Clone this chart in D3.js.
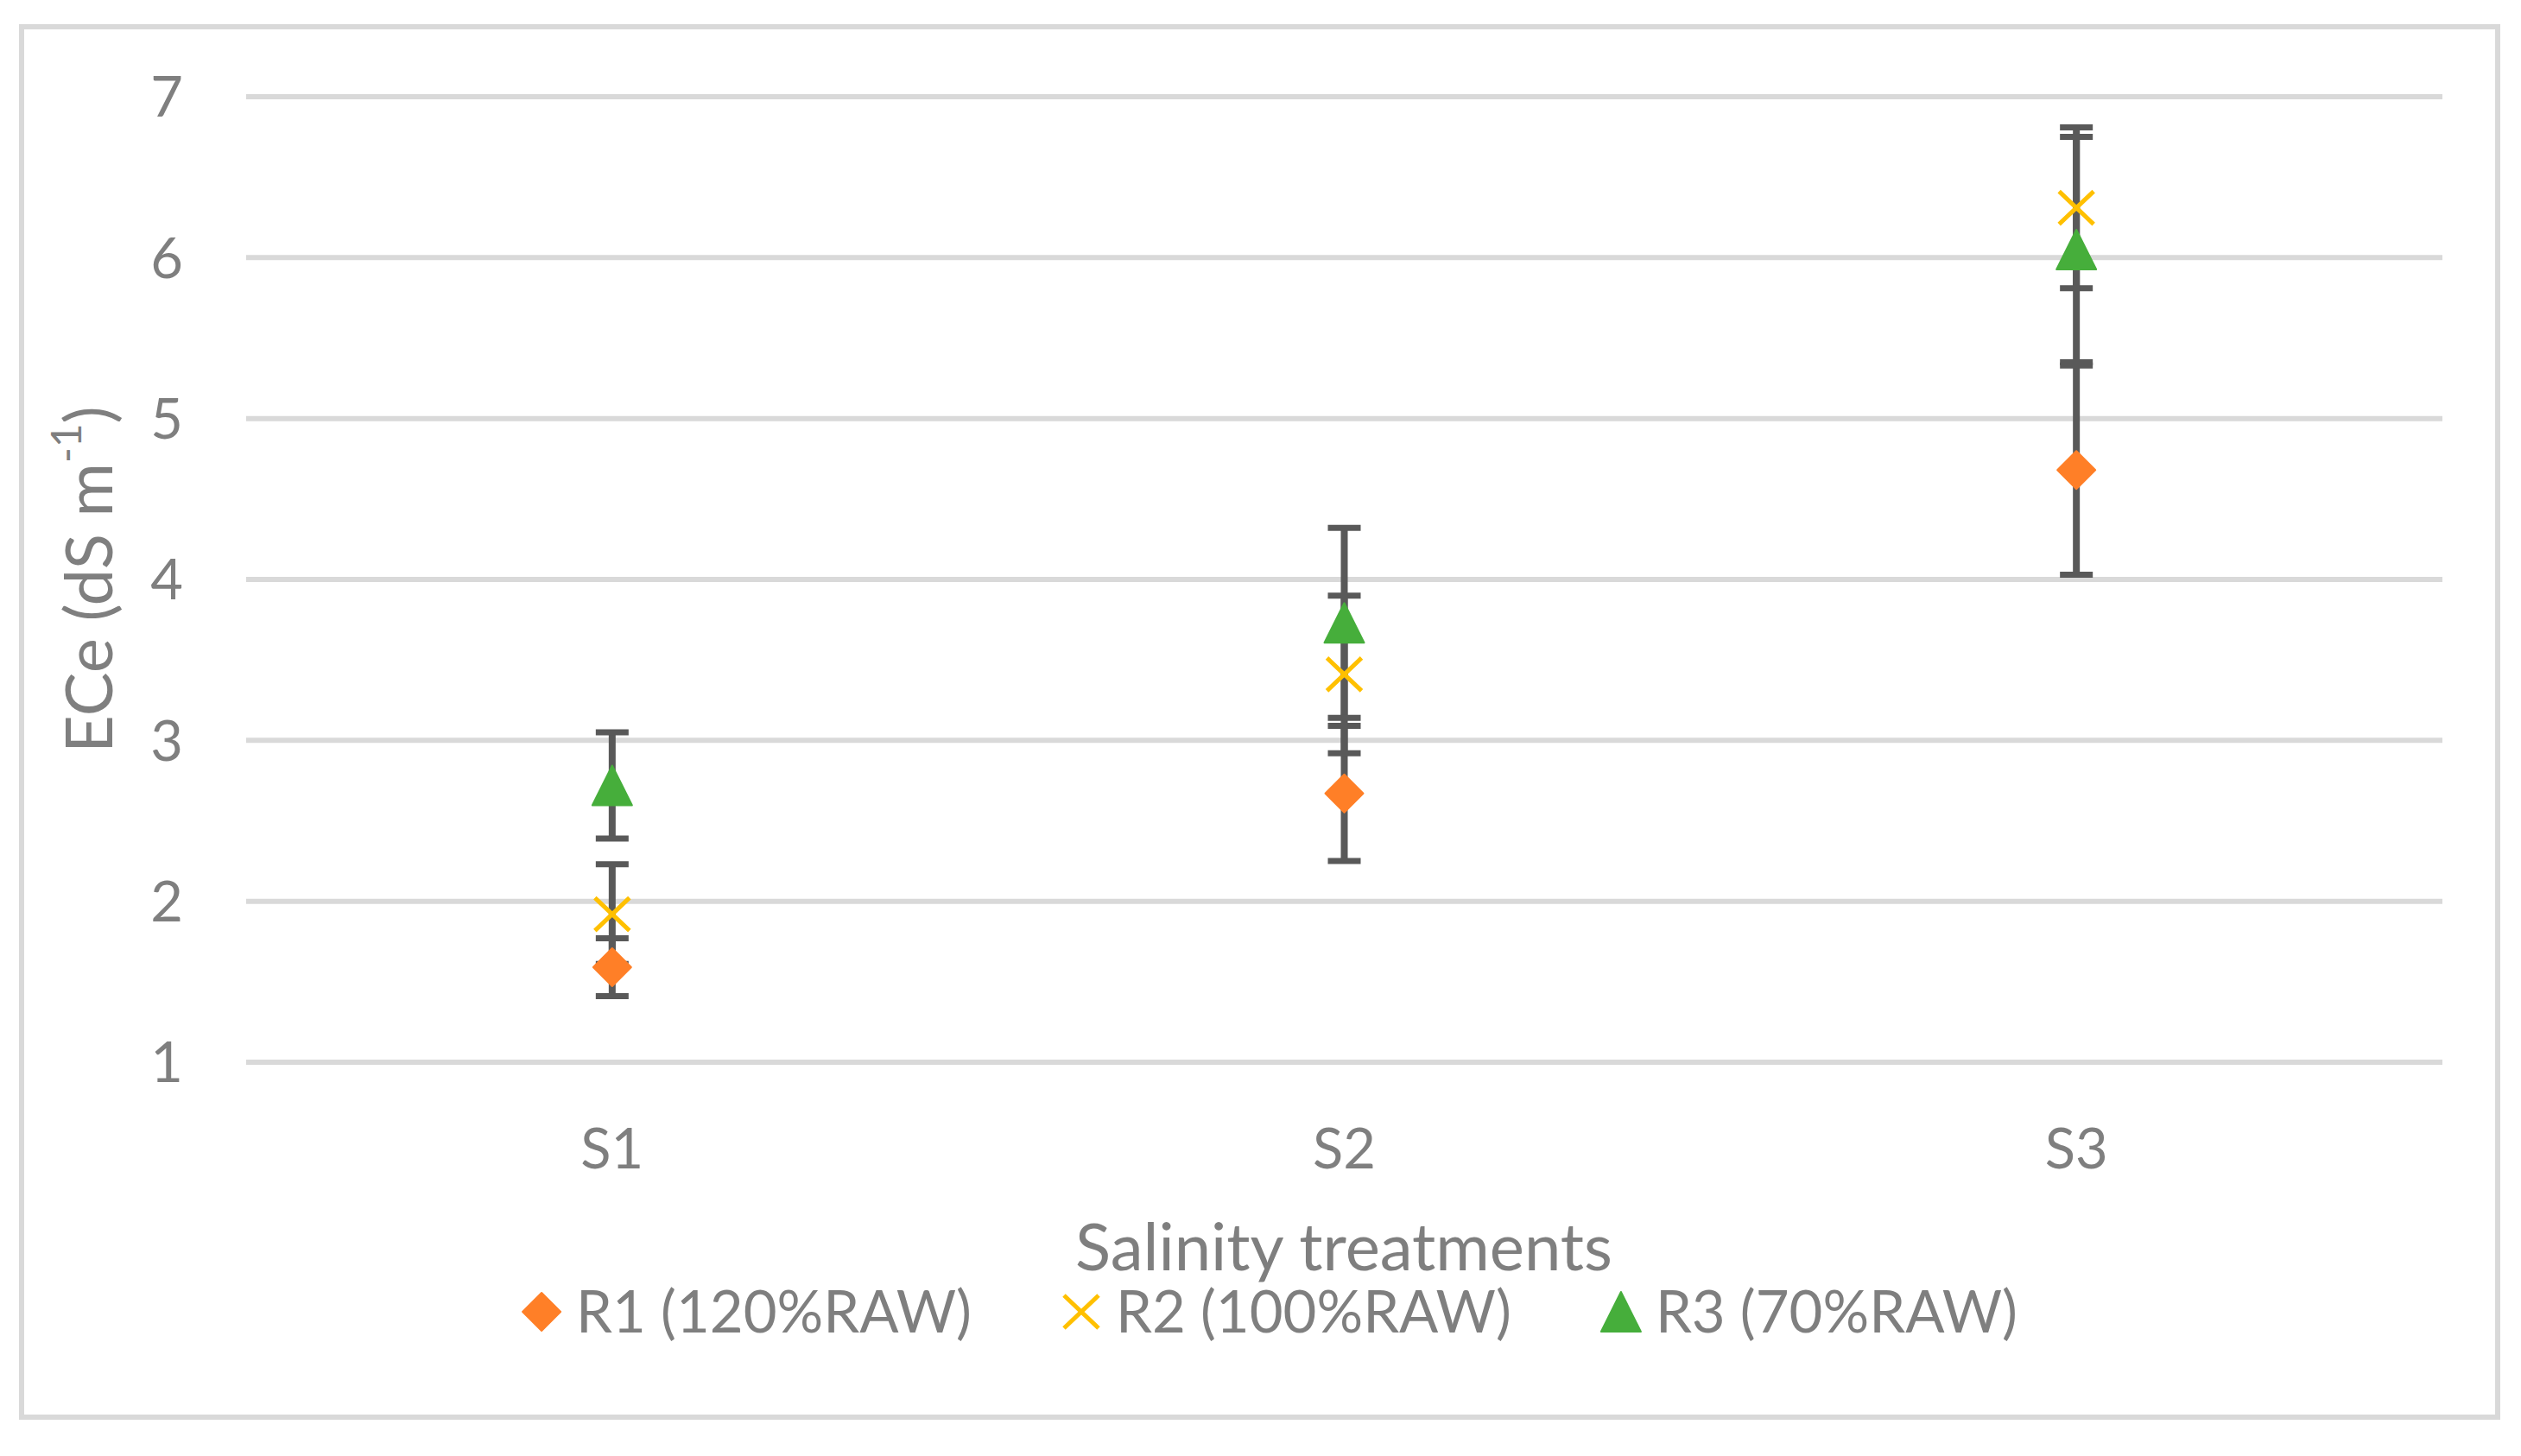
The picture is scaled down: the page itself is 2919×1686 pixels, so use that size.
<!DOCTYPE html>
<html>
<head>
<meta charset="utf-8">
<script src="https://cdn.jsdelivr.net/npm/d3@7"></script>
<style>
  body { margin: 0; background: #ffffff; }
  text { font-family: Lato, "Open Sans", sans-serif; fill: #7f7f7f; }
</style>
</head>
<body>
<div id="chart"></div>
<script>
// data
var categories = ['S1', 'S2', 'S3'];
var seriesNames = ['R1 (120%RAW)', 'R2 (100%RAW)', 'R3 (70%RAW)'];
var r1Means = [1.59, 2.67, 4.68];
var r1Errors = [0.18, 0.42, 0.65];
var r2Means = [1.92, 3.41, 6.31];
var r2Errors = [0.31, 0.49, 0.50];
var r3Means = [2.72, 3.73, 6.05];
var r3Errors = [0.33, 0.59, 0.70];
var yTicks = [1, 2, 3, 4, 5, 6, 7];

var width = 2919, height = 1686;
var plot = { left: 285, right: 2828, top: 112, bottom: 1230 };
var errColor = '#595959';

var series = [
  { name: seriesNames[0], means: r1Means, errors: r1Errors, shape: 'diamond', color: '#ff7f27' },
  { name: seriesNames[1], means: r2Means, errors: r2Errors, shape: 'cross', color: '#ffc000' },
  { name: seriesNames[2], means: r3Means, errors: r3Errors, shape: 'triangle', color: '#46ae3b' }
];

var svg = d3.select('#chart').append('svg')
  .attr('width', width)
  .attr('height', height);

svg.append('rect')
  .attr('width', width).attr('height', height)
  .attr('fill', '#ffffff');

// chart border
svg.append('rect')
  .attr('x', 25).attr('y', 31)
  .attr('width', 2867).attr('height', 1610)
  .attr('fill', 'none')
  .attr('stroke', '#d9d9d9')
  .attr('stroke-width', 6);

var x = d3.scaleBand()
  .domain(categories)
  .range([plot.left, plot.right]);
var y = d3.scaleLinear()
  .domain([1, 7])
  .range([plot.bottom, plot.top]);

function cx(c) { return x(c) + x.bandwidth() / 2; }

// gridlines
svg.selectAll('line.grid')
    .data(yTicks)
  .enter().append('line')
    .attr('class', 'grid')
    .attr('x1', plot.left).attr('x2', plot.right)
    .attr('y1', function(d) { return y(d); })
    .attr('y2', function(d) { return y(d); })
    .attr('stroke', '#d9d9d9')
    .attr('stroke-width', 6);

// y tick labels
svg.selectAll('text.ytick')
    .data(yTicks)
  .enter().append('text')
    .attr('class', 'ytick')
    .attr('x', 212)
    .attr('y', function(d) { return y(d); })
    .attr('dy', '0.36em')
    .attr('text-anchor', 'end')
    .attr('font-size', '65px')
    .text(function(d) { return d; });

// x tick labels
svg.selectAll('text.xtick')
    .data(categories)
  .enter().append('text')
    .attr('class', 'xtick')
    .attr('x', function(d) { return cx(d); })
    .attr('y', 1353)
    .attr('text-anchor', 'middle')
    .attr('font-size', '65px')
    .text(function(d) { return d; });

// axis titles
svg.append('text')
  .attr('x', 1556).attr('y', 1471)
  .attr('text-anchor', 'middle')
  .attr('font-size', '76px')
  .text('Salinity treatments');

var yTitle = svg.append('text')
  .attr('transform', 'translate(130,' + ((plot.top + plot.bottom) / 2) + ') rotate(-90)')
  .attr('text-anchor', 'middle')
  .attr('font-size', '76px');
yTitle.append('tspan').text('ECe (dS m');
yTitle.append('tspan').attr('font-size', '48px').attr('dy', '-0.75em').text('-1');
yTitle.append('tspan').attr('dy', '0.48em').text(')');

// marker shapes
function markerPath(shape) {
  if(shape == 'diamond') return 'M0,-22L22,0L0,22L-22,0Z';
  if(shape == 'triangle') return 'M0,-23L23,23L-23,23Z';
  return 'M-20,-19L20,19M-20,19L20,-19';
}

function drawMarker(g, s) {
  var p = g.append('path').attr('d', markerPath(s.shape));
  if(s.shape == 'cross') {
    p.attr('fill', 'none').attr('stroke', s.color).attr('stroke-width', 5);
  } else {
    p.attr('fill', s.color).attr('stroke', s.color)
      .attr('stroke-width', 2).attr('stroke-linejoin', 'round');
  }
}

// error bars first, markers on top
series.forEach(function(s) {
  var g = svg.append('g').attr('class', 'errors');
  categories.forEach(function(c, i) {
    var hi = y(s.means[i] + s.errors[i]);
    var lo = y(s.means[i] - s.errors[i]);
    g.append('line')
      .attr('x1', cx(c)).attr('x2', cx(c))
      .attr('y1', hi).attr('y2', lo)
      .attr('stroke', errColor).attr('stroke-width', 8);
    [hi, lo].forEach(function(v) {
      g.append('line')
        .attr('x1', cx(c) - 19).attr('x2', cx(c) + 19)
        .attr('y1', v).attr('y2', v)
        .attr('stroke', errColor).attr('stroke-width', 7);
    });
  });
});

series.forEach(function(s) {
  categories.forEach(function(c, i) {
    var g = svg.append('g')
      .attr('transform', 'translate(' + cx(c) + ',' + y(s.means[i]) + ')');
    drawMarker(g, s);
  });
});

// legend
var legend = svg.append('g').attr('class', 'legend');
var items = [];
series.forEach(function(s) {
  var item = legend.append('g');
  var t = item.append('text')
    .attr('x', 40).attr('y', 24)
    .attr('font-size', '67px')
    .text(s.name);
  drawMarker(item.append('g'), s);
  items.push({ g: item, w: 40 + t.node().getComputedTextLength() });
});
var gap = 127;
var total = d3.sum(items, function(d) { return d.w; }) + gap * (items.length - 1) + 23;
var pos = 1470 - total / 2 + 23;
items.forEach(function(d) {
  d.g.attr('transform', 'translate(' + pos + ',1519)');
  pos += d.w + gap;
});
</script>
</body>
</html>
